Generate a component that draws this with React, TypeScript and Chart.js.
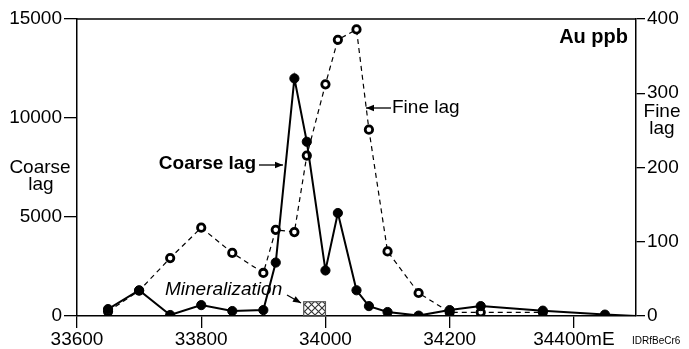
import React, { useEffect, useRef } from "react";
import { Chart, registerables } from "chart.js";

Chart.register(...registerables);

const coarseX = [33650, 33700, 33750, 33800, 33850, 33900, 33920, 33950, 33970, 34000, 34020, 34050, 34070, 34100, 34150, 34200, 34250, 34350, 34450, 34500];
const coarseY = [350, 1300, 50, 550, 250, 300, 2700, 12000, 8800, 2300, 5200, 1300, 500, 200, 20, 300, 500, 270, 70, 0];

const fineX = [33650, 33700, 33750, 33800, 33850, 33900, 33920, 33950, 33970, 34000, 34020, 34050, 34070, 34100, 34150, 34200, 34250, 34350];
const fineY = [6, 34, 78, 119, 85, 58, 116, 113, 216, 312, 372, 386, 251, 87, 31, 5, 5, 5];

const xTicks = [33600, 33800, 34000, 34200, 34400];
const mineralFrom = 33965;
const mineralTo = 34000;
const mineralHeight = 720;

const FONT = '"Liberation Sans", Arial, Helvetica, sans-serif';

function arrowHead(ctx: CanvasRenderingContext2D, x1: number, y1: number, x2: number, y2: number) {
  const a = Math.atan2(y2 - y1, x2 - x1);
  const len = 8;
  const w = 3.2;
  ctx.beginPath();
  ctx.moveTo(x2, y2);
  ctx.lineTo(x2 - len * Math.cos(a) + w * Math.sin(a), y2 - len * Math.sin(a) - w * Math.cos(a));
  ctx.lineTo(x2 - len * Math.cos(a) - w * Math.sin(a), y2 - len * Math.sin(a) + w * Math.cos(a));
  ctx.closePath();
  ctx.fill();
}

function arrow(ctx: CanvasRenderingContext2D, x1: number, y1: number, x2: number, y2: number) {
  ctx.beginPath();
  ctx.moveTo(x1, y1);
  ctx.lineTo(x2, y2);
  ctx.stroke();
  arrowHead(ctx, x1, y1, x2, y2);
}

const annotPlugin = {
  id: "annot",
  afterDraw(chart: any) {
    const { ctx, chartArea: ca, scales } = chart;
    ctx.save();
    ctx.strokeStyle = "#000";
    ctx.fillStyle = "#000";
    ctx.lineWidth = 1.5;
    ctx.beginPath();
    ctx.moveTo(ca.left, ca.top);
    ctx.lineTo(ca.right, ca.top);
    ctx.stroke();

    // mineralization box
    const bx1 = scales.x.getPixelForValue(mineralFrom);
    const bx2 = scales.x.getPixelForValue(mineralTo);
    const by1 = scales.y.getPixelForValue(mineralHeight);
    const by2 = scales.y.getPixelForValue(0);
    const pc = document.createElement("canvas");
    pc.width = 7;
    pc.height = 7;
    const p = pc.getContext("2d")!;
    p.strokeStyle = "#333";
    p.lineWidth = 1.1;
    p.beginPath();
    p.moveTo(0, 0); p.lineTo(7, 7);
    p.moveTo(7, 0); p.lineTo(0, 7);
    p.stroke();
    ctx.fillStyle = ctx.createPattern(pc, "repeat");
    ctx.fillRect(bx1, by1, bx2 - bx1, by2 - by1);
    ctx.strokeStyle = "#555";
    ctx.lineWidth = 1.2;
    ctx.strokeRect(bx1, by1, bx2 - bx1, by2 - by1);

    ctx.fillStyle = "#000";
    ctx.strokeStyle = "#000";
    ctx.textBaseline = "middle";

    // Au ppb
    ctx.font = `bold 20px ${FONT}`;
    ctx.textAlign = "right";
    ctx.fillText("Au ppb", 628, 37);

    // Coarse lag annotation
    ctx.font = `bold 19px ${FONT}`;
    ctx.textAlign = "right";
    ctx.fillText("Coarse lag", 256, 164);
    ctx.lineWidth = 1.3;
    arrow(ctx, 259, 165, 283, 165);

    // Fine lag annotation
    ctx.font = `19px ${FONT}`;
    ctx.textAlign = "left";
    ctx.fillText("Fine lag", 392, 108);
    arrow(ctx, 391, 108, 366, 108);

    // Mineralization
    ctx.font = `italic 19px ${FONT}`;
    ctx.textAlign = "left";
    ctx.fillText("Mineralization", 165, 290);
    arrow(ctx, 287, 295, 301, 303);

    // axis titles
    ctx.font = `19px ${FONT}`;
    ctx.textAlign = "center";
    ctx.fillText("Coarse", 40, 168);
    ctx.fillText("lag", 41, 185);
    ctx.fillText("Fine", 662, 112);
    ctx.fillText("lag", 662, 129);

    // figure id
    ctx.font = `10px "Liberation Sans Narrow", "Liberation Sans", Arial, sans-serif`;
    ctx.textAlign = "left";
    ctx.fillText("IDRfBeCr6", 632, 341);
    ctx.restore();
  },
};

export default function App() {
  const ref = useRef<HTMLCanvasElement | null>(null);
  useEffect(() => {
    if (!ref.current) return;
    Chart.defaults.font.family = FONT;
    Chart.defaults.color = "#000";
    const chart = new Chart(ref.current, {
      type: "scatter",
      data: {
        datasets: [
          {
            label: "Coarse lag",
            data: coarseX.map((x, i) => ({ x, y: coarseY[i] })),
            yAxisID: "y",
            showLine: true,
            borderColor: "#000",
            borderWidth: 2,
            backgroundColor: "#000",
            pointBackgroundColor: "#000",
            pointBorderColor: "#000",
            pointBorderWidth: 1,
            pointRadius: (c: any) => (c.dataIndex === coarseX.length - 1 ? 0 : 4.6),
          },
          {
            label: "Fine lag",
            data: fineX.map((x, i) => ({ x, y: fineY[i] })),
            yAxisID: "y1",
            showLine: true,
            borderColor: "#000",
            borderWidth: 1.2,
            borderDash: [5, 4],
            backgroundColor: "#fff",
            pointBackgroundColor: "#fff",
            pointBorderColor: "#000",
            pointBorderWidth: 2.8,
            pointRadius: 3.7,
          },
        ],
      },
      options: {
        animation: false,
        responsive: false,
        devicePixelRatio: 1,
        layout: { padding: { top: 19, left: 0, right: 0, bottom: 0 } },
        plugins: { legend: { display: false }, tooltip: { enabled: false } },
        scales: {
          x: {
            type: "linear",
            position: "bottom",
            min: 33600,
            max: 34500,
            afterBuildTicks: (s: any) => {
              s.ticks = xTicks.map((v) => ({ value: v }));
            },
            afterFit: (s: any) => {
              s.height = 33;
            },
            ticks: {
              autoSkip: false,
              maxRotation: 0,
              padding: 0,
              color: "#000",
              font: { size: 19, family: FONT },
              callback: (v: any) => (v === 34400 ? "34400mE" : String(v)),
            },
            grid: { drawOnChartArea: false, drawTicks: true, tickLength: 12, color: "#000", lineWidth: 1.3 },
            border: { color: "#000", width: 1.5 },
          },
          y: {
            position: "left",
            min: 0,
            max: 15000,
            afterFit: (s: any) => {
              s.width = 77;
            },
            ticks: { stepSize: 5000, padding: 2, color: "#000", font: { size: 19, family: FONT }, callback: (v: any) => String(v) },
            grid: { drawOnChartArea: false, drawTicks: true, tickLength: 13, color: "#000", lineWidth: 1.3 },
            border: { color: "#000", width: 1.5 },
          },
          y1: {
            position: "right",
            min: 0,
            max: 400,
            afterFit: (s: any) => {
              s.width = 53;
            },
            ticks: { stepSize: 100, padding: 2, color: "#000", font: { size: 19, family: FONT }, callback: (v: any) => String(v) },
            grid: { drawOnChartArea: false, drawTicks: true, tickLength: 9, color: "#000", lineWidth: 1.3 },
            border: { color: "#000", width: 1.5 },
          },
        },
      },
      plugins: [annotPlugin],
    } as any);
    return () => chart.destroy();
  }, []);
  return (
    <div style={{ position: "fixed", left: 0, top: 0, width: 689, height: 349, background: "#fff" }}>
      <canvas ref={ref} width={689} height={349} style={{ width: 689, height: 349, display: "block" }} />
    </div>
  );
}
